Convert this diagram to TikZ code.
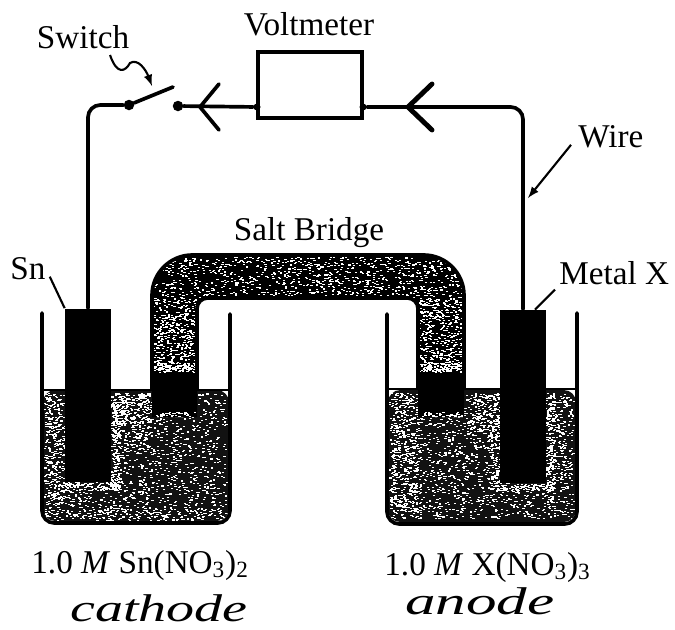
\documentclass[tikz,border=0pt]{standalone}
\usepackage{fontspec}
\usepackage{graphicx}
\setmainfont{Liberation Serif}
\usepackage{tikz}
\definecolor{solution}{RGB}{18, 18, 18}

\newcommand{\speckles}[5]{
  \foreach \n in {1, 2, ..., #5} {
    \pgfmathsetmacro{\xi}{#1 + (#3 - #1) * rnd}
    \pgfmathsetmacro{\eta}{#2 + (#4 - #2) * rnd}
    \fill[white] (\xi, \eta) rectangle ++(2.2, 1.1);
  }
}
\newcommand{\bridgepath}{
  (152, 417) [rounded corners=23pt] -- (152, 255) -- (464, 255) [sharp corners]
  -- (464, 417) -- (418, 417) [rounded corners=6pt] -- (418, 298) -- (197, 298)
  [sharp corners] -- (197, 417) -- cycle
}

\tikzset{
  textlabel/.style={inner sep=0pt, font=\fontsize{18.9}{20}\selectfont},
  handlabel/.style={inner sep=0pt, font=\fontsize{22}{24}\selectfont\itshape},
  wire/.style={line width=2.1pt, line cap=round},
  thickbarb/.style={line width=2.8pt, line cap=round},
  pointer/.style={line width=1.2pt},
  glass/.style={line width=2.1pt, line cap=round},
  rod/.style={fill=black, inner sep=0pt, minimum width=0.92cm, minimum height=3.48cm},
  contact/.style={circle, fill=black, inner sep=0pt, minimum size=0.21cm},
  jack/.style={circle, fill=black, inner sep=0pt, minimum size=0.14cm},
  meter/.style={draw, line width=2.1pt, fill=white, inner sep=0pt, minimum width=2.08cm, minimum height=1.32cm}
}

\begin{document}
\begin{tikzpicture}[x=0.02cm, y=-0.02cm]
  \useasboundingbox (0, 0) rectangle (675, 629);
  \pgfmathsetseed{7}

  \begin{scope}[shift={(0, 0)}]
    \fill[solution, rounded corners=7pt] (43, 390) -- (43, 521) -- (229, 521) -- (229, 390) -- cycle;
    \speckles{44}{393}{226}{518}{1500}
    \speckles{44}{393}{64}{505}{260}
    \speckles{111}{393}{150}{440}{260}
    \speckles{44}{508}{226}{520}{160}
    \speckles{111}{393}{119}{490}{130}
    \speckles{60}{482}{119}{490}{90}
  \end{scope}

  \begin{scope}[shift={(345, 0)}]
    \fill[solution, rounded corners=7pt] (43, 390) -- (43, 522) -- (231, 522) -- (231, 390) -- cycle;
    \speckles{44}{393}{228}{518}{1500}
    \speckles{44}{393}{75}{518}{360}
    \speckles{120}{393}{150}{440}{120}
    \speckles{200}{393}{226}{518}{120}
    \speckles{145}{393}{155}{490}{130}
    \speckles{201}{393}{209}{490}{130}
    \speckles{150}{484}{209}{490}{100}
  \end{scope}

  % salt bridge
  \fill[black] \bridgepath;
  \begin{scope}
    \clip \bridgepath;
    \speckles{152}{255}{464}{298}{1000}
    \speckles{152}{298}{197}{372}{480}
    \speckles{418}{298}{464}{372}{480}
    \speckles{155}{362}{194}{371}{90}
    \speckles{421}{362}{461}{371}{90}
    \speckles{155}{412}{194}{418}{50}
    \speckles{421}{412}{461}{418}{50}
  \end{scope}
  \draw[line width=2.1pt] (152, 390) [rounded corners=23pt] -- (152, 255) -- (464, 255)
    [sharp corners] -- (464, 390);
  \draw[line width=2.1pt] (418, 390) [rounded corners=6pt] -- (418, 298) -- (197, 298)
    [sharp corners] -- (197, 390);

  \begin{scope}[shift={(0, 0)}]
    \draw[glass, rounded corners=7pt] (42, 313) -- (42, 523) -- (230, 523) -- (230, 314);
    \draw[line width=1.5pt] (42, 390) -- (152, 390) (197, 390) -- (230, 390);
  \end{scope}

  \begin{scope}[shift={(345, 0)}]
    \draw[glass, rounded corners=7pt] (42, 314) -- (42, 524) -- (232, 524) -- (232, 313);
    \draw[line width=1.5pt] (42, 389) -- (73, 389) (119, 389) -- (232, 389);
  \end{scope}

  \node[rod] (snrod) at (88, 395.5) {};
  \node[rod] (xrod) at (523, 396.5) {};
  \node[meter] (voltmeter) at (310, 85) {};
  \node[jack] (jackl) at (257, 107) {};
  \node[jack] (jackr) at (363, 107) {};
  \node[contact] (contactl) at (129, 105) {};
  \node[contact] (contactr) at (178, 106) {};
  \coordinate (armend) at (173, 87);
  \coordinate (tipl) at (200, 107);
  \coordinate (tipr) at (408, 107);

  \draw[wire, rounded corners=7pt] (snrod.north) |- (contactl);
  \draw[wire, rounded corners=7pt] (xrod.north) |- (jackr);
  \draw[wire] (contactr) -- (jackl);
  \draw[wire] (contactl) -- (armend);

  \foreach \tip/\reach/\barb in {tipl/19/wire, tipr/24/thickbarb} {
    \draw[\barb] (\tip) -- ++(\reach, -23);
    \draw[\barb] (\tip) -- ++(\reach, 23);
  }

  \node[textlabel, anchor=base] (switchlabel) at (83, 48) {Switch};
  \node[textlabel, anchor=base] (voltlabel) at (309, 35) {Voltmeter};
  \node[textlabel, anchor=base] (bridgelabel) at (309, 240) {Salt Bridge};
  \node[textlabel, anchor=base west] (wirelabel) at (578, 147) {Wire};
  \node[textlabel, anchor=base west] (metallabel) at (559, 284) {Metal X};
  \node[textlabel, anchor=base west] (snlabel) at (10, 279) {Sn};
  \node[textlabel, anchor=base west] (sncell) at (31, 573)
    {1.0 \textit{M} Sn(NO\textsubscript{3})\textsubscript{2}};
  \node[textlabel, anchor=base west] (xcell) at (384, 575)
    {1.0 \textit{M} X(NO\textsubscript{3})\textsubscript{3}};
  \node[handlabel, anchor=base] (cathodelabel) at (159, 621) {\scalebox{1.45}[1]{cathode}};
  \node[handlabel, anchor=base] (anodelabel) at (480, 614) {\scalebox{1.58}[1]{anode}};

  \coordinate (wirepoint) at (528, 198);
  \coordinate (switchpoint) at (152, 86);
  \coordinate (switchtail) at (110, 55);

  \draw[pointer] (snlabel.south east) ++(4, -3) -- (snrod.north west);
  \draw[pointer] (metallabel.south west) ++(-4, 5) -- ++(-20, 20);
  \draw[pointer, -latex] (wirelabel.south west) ++(-7, -3) -- (wirepoint);
  \draw[pointer, -latex] (switchtail) .. controls (117, 75) and (125, 72) .. (130, 63)
    .. controls (138, 58) and (146, 70) .. (switchpoint);
\end{tikzpicture}
\end{document}
